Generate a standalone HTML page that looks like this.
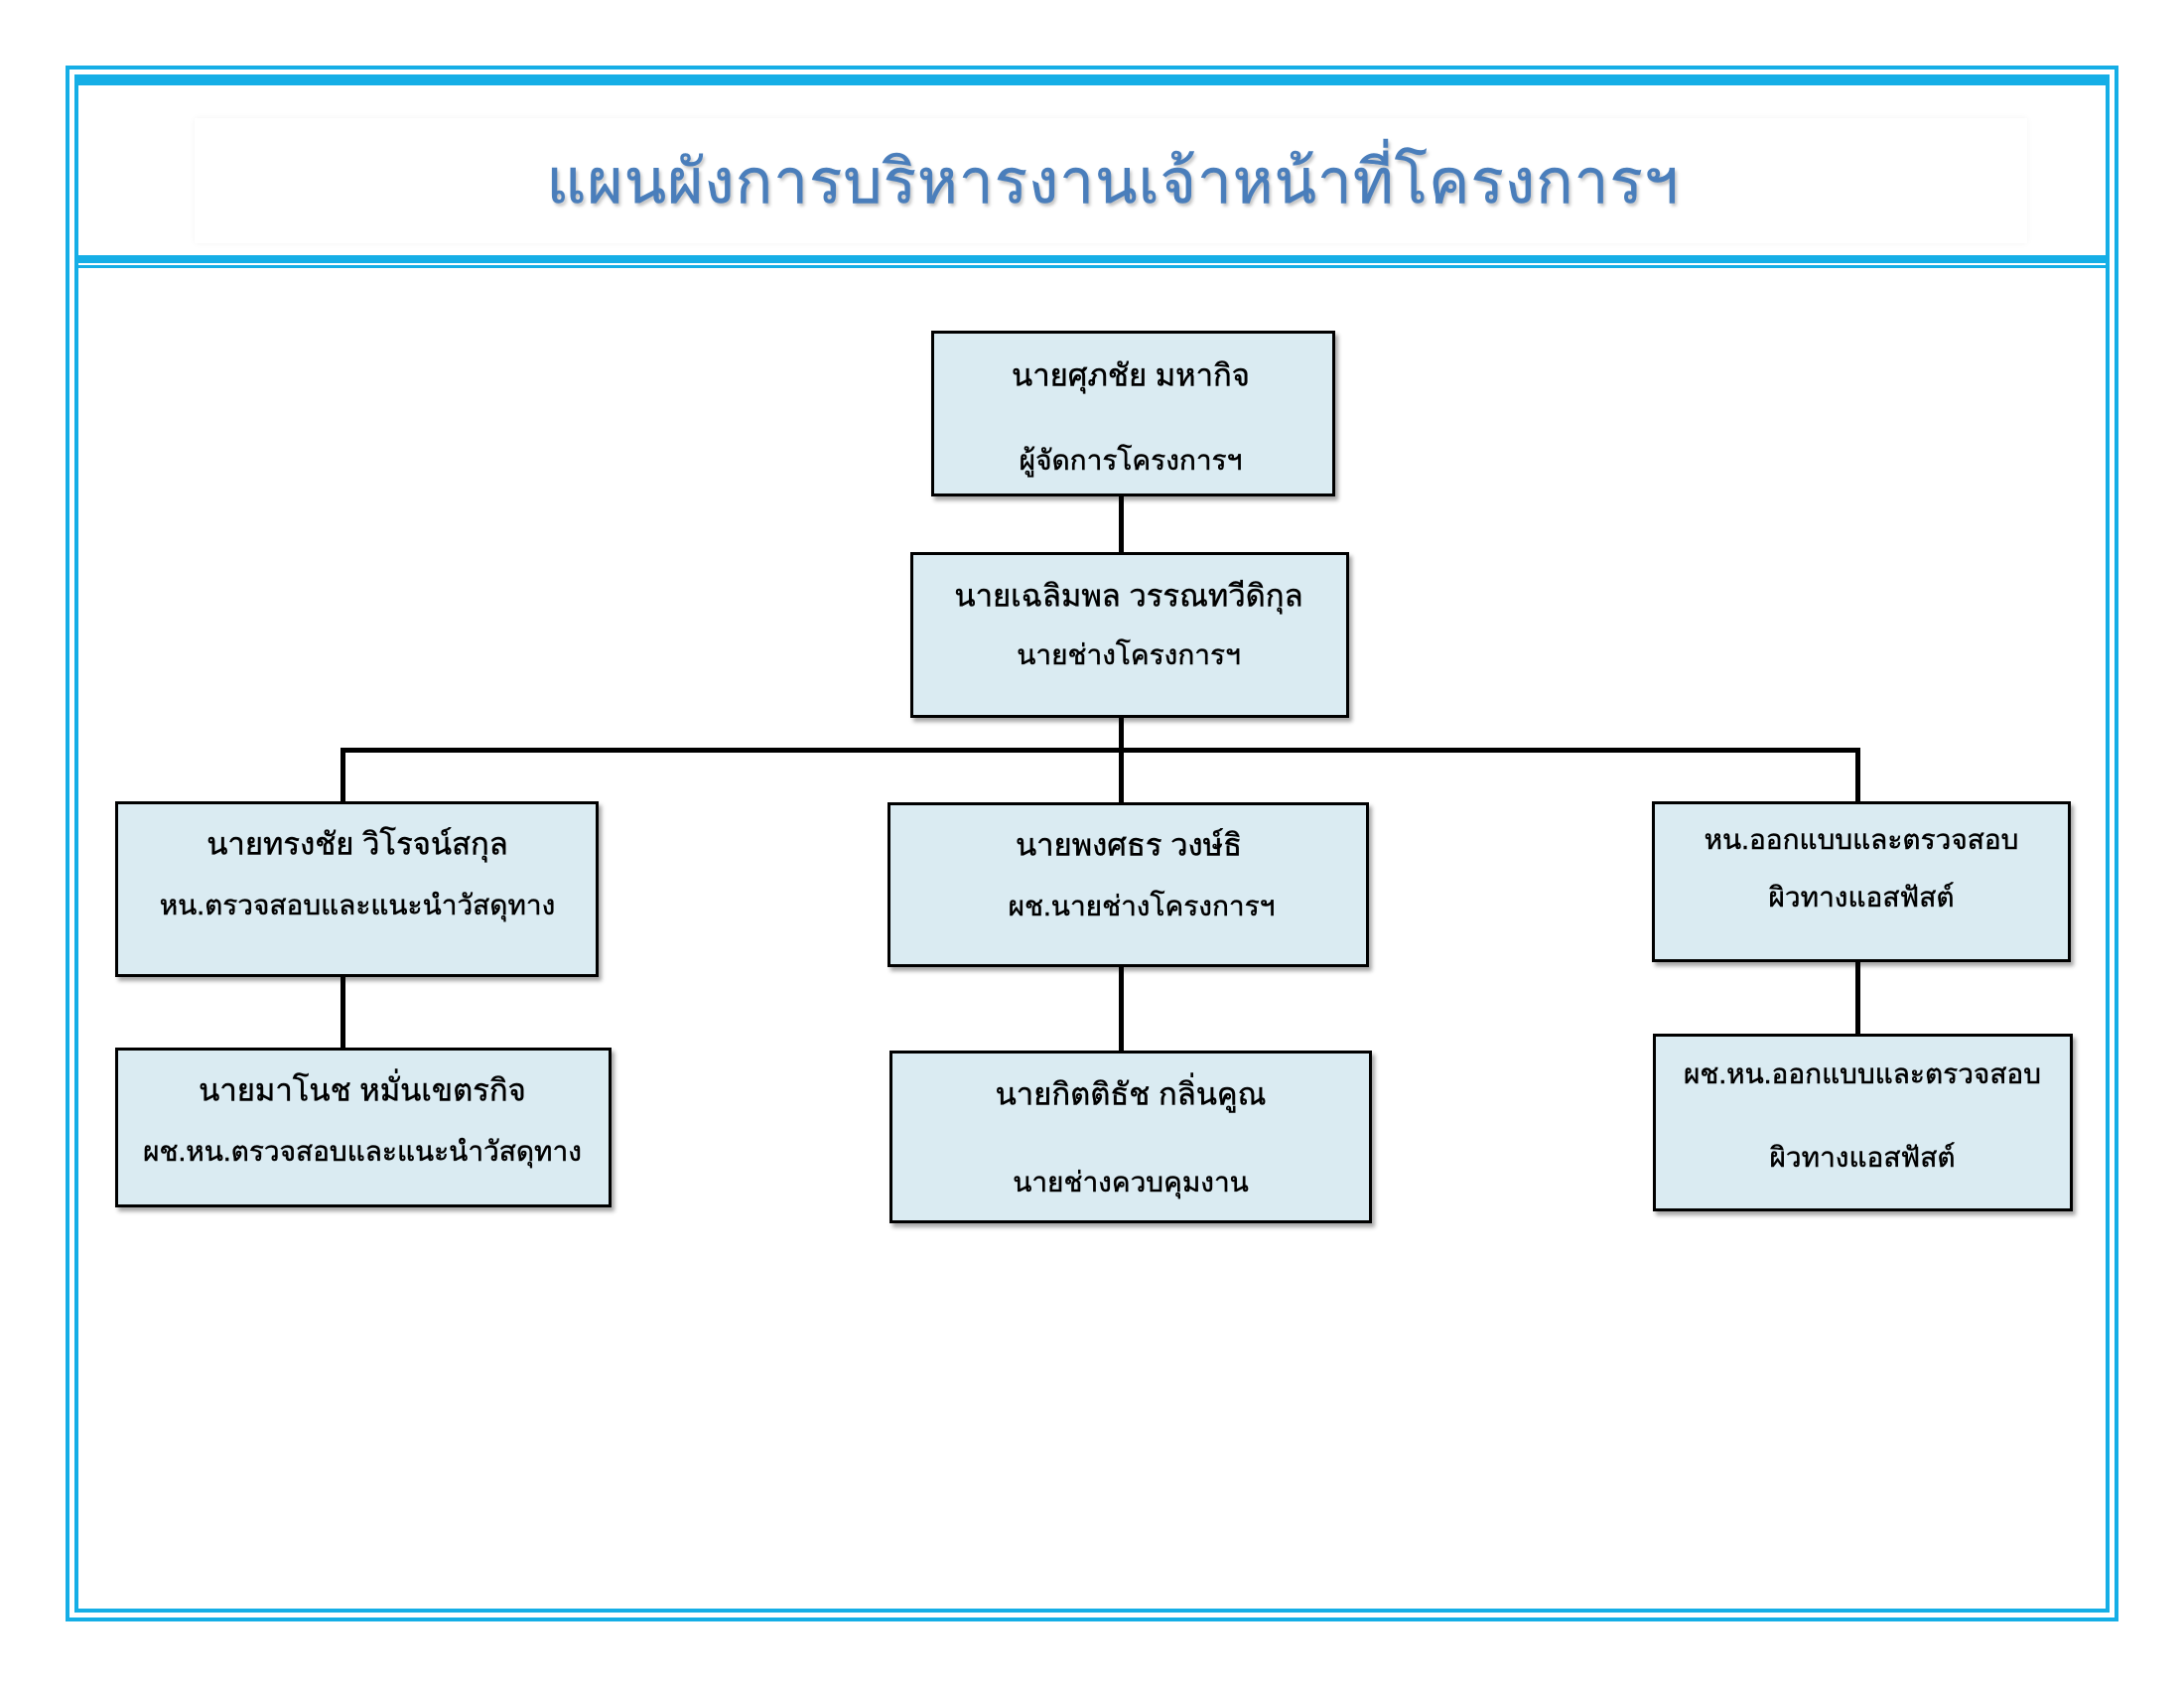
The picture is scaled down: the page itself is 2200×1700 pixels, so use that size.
<!DOCTYPE html>
<html><head><meta charset="utf-8"><style>
html,body{margin:0;padding:0;background:#fff}
body{width:2200px;height:1700px;position:relative;overflow:hidden;font-family:"Liberation Sans","Noto Sans CJK SC",sans-serif}
.a{position:absolute;box-sizing:border-box}
.box{position:absolute;box-sizing:border-box;background:#daebf2;border:3px solid #000;box-shadow:3px 4px 4px rgba(0,0,0,0.35)}
.t{position:absolute;transform:translate(-50%,-50%);white-space:nowrap;color:#000;font-size:31px;line-height:1;-webkit-text-stroke:0.5px #000}
.s{font-size:28px}
.ln{position:absolute;background:#000}
</style></head><body>
<!-- frame -->
<div class="a" style="left:66px;top:66px;width:2068px;height:1567px;border:4px solid #15aee6"></div>
<div class="a" style="left:75px;top:75px;width:2050px;height:1549px;border:4px solid #15aee6"></div>
<div class="a" style="left:75px;top:75px;width:2050px;height:11px;background:#15aee6"></div>
<div class="a" style="left:75px;top:257px;width:2050px;height:8px;background:#15aee6"></div>
<div class="a" style="left:75px;top:267px;width:2050px;height:3px;background:#15aee6"></div>
<div class="a" style="left:196px;top:119px;width:1846px;height:126px;box-shadow:0 0 6px rgba(0,0,0,0.05)"></div>
<div class="t" style="left:1121px;top:184px;font-size:62px;letter-spacing:1px;color:#4a7ebb;-webkit-text-stroke:0.5px #4a7ebb;text-shadow:2px 3px 3px rgba(0,0,0,0.25)">แผนผังการบริหารงานเจ้าหน้าที่โครงการฯ</div>

<!-- lines -->
<div class="ln" style="left:1127px;top:498px;width:5px;height:60px"></div>
<div class="ln" style="left:1127px;top:721px;width:5px;height:88px"></div>
<div class="ln" style="left:343px;top:753px;width:1531px;height:5px"></div>
<div class="ln" style="left:343px;top:753px;width:5px;height:56px"></div>
<div class="ln" style="left:1869px;top:753px;width:5px;height:56px"></div>
<div class="ln" style="left:343px;top:982px;width:5px;height:75px"></div>
<div class="ln" style="left:1127px;top:972px;width:5px;height:88px"></div>
<div class="ln" style="left:1869px;top:967px;width:5px;height:76px"></div>

<!-- boxes -->
<div class="box" style="left:938px;top:333px;width:407px;height:167px"></div>
<div class="t" style="left:1139px;top:378px">นายศุภชัย มหากิจ</div>
<div class="t s" style="left:1139px;top:464px">ผู้จัดการโครงการฯ</div>

<div class="box" style="left:917px;top:556px;width:442px;height:167px"></div>
<div class="t" style="left:1137px;top:600px">นายเฉลิมพล วรรณทวีดิกุล</div>
<div class="t s" style="left:1137px;top:660px">นายช่างโครงการฯ</div>

<div class="box" style="left:116px;top:807px;width:487px;height:177px"></div>
<div class="t" style="left:360px;top:850px">นายทรงชัย วิโรจน์สกุล</div>
<div class="t s" style="left:360px;top:912px">หน.ตรวจสอบและแนะนำวัสดุทาง</div>

<div class="box" style="left:894px;top:808px;width:485px;height:166px"></div>
<div class="t" style="left:1137px;top:851px">นายพงศธร วงษ์ธิ</div>
<div class="t s" style="left:1150px;top:913px">ผช.นายช่างโครงการฯ</div>

<div class="box" style="left:1664px;top:807px;width:422px;height:162px"></div>
<div class="t s" style="left:1875px;top:846px">หน.ออกแบบและตรวจสอบ</div>
<div class="t s" style="left:1875px;top:904px">ผิวทางแอสฟัสต์</div>

<div class="box" style="left:116px;top:1055px;width:500px;height:161px"></div>
<div class="t" style="left:365px;top:1098px">นายมาโนช หมั่นเขตรกิจ</div>
<div class="t s" style="left:365px;top:1160px">ผช.หน.ตรวจสอบและแนะนำวัสดุทาง</div>

<div class="box" style="left:896px;top:1058px;width:486px;height:174px"></div>
<div class="t" style="left:1139px;top:1102px">นายกิตติธัช กลิ่นคูณ</div>
<div class="t s" style="left:1139px;top:1191px">นายช่างควบคุมงาน</div>

<div class="box" style="left:1665px;top:1041px;width:423px;height:179px"></div>
<div class="t s" style="left:1876px;top:1082px">ผช.หน.ออกแบบและตรวจสอบ</div>
<div class="t s" style="left:1876px;top:1166px">ผิวทางแอสฟัสต์</div>
</body></html>
